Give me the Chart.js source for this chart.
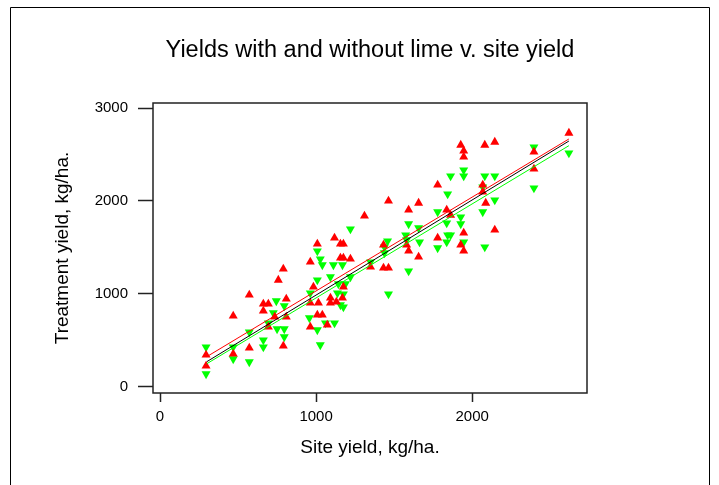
<!DOCTYPE html>
<html>
<head>
<meta charset="utf-8">
<script src="https://cdn.jsdelivr.net/npm/chart.js@4.4.1/dist/chart.umd.min.js"></script>
<style>
  html, body { margin: 0; padding: 0; background: #fff; }
</style>
</head>
<body>
<canvas id="yieldChart" width="719" height="485"></canvas>
<script>
// values, kg/ha
// red (up triangles) - with lime
const limeX = [295, 295, 469, 469, 572, 572, 662, 694, 662, 694, 735, 758, 790, 809, 809, 790, 963, 1156, 1175, 1220,
  983, 963, 1015, 1092, 1092, 1169, 1008, 1040, 963, 1072, 1118, 1156, 1175, 1008, 1175, 1130, 1310, 1464, 1657, 1593,
  1837, 1432, 1580, 1593, 1657, 1779, 1349, 1432, 1464, 1862, 2068, 2087, 1946, 1927, 1946, 2145, 2620, 2396, 2396, 1927,
  1946, 1946, 2081, 2145, 1779, 2068];
const limeY = [344, 226, 763, 355, 990, 419, 892, 892, 817, 645, 753, 1150, 1269, 946, 753, 441, 1344, 1387, 1387, 1376,
  1075, 903, 903, 957, 903, 957, 774, 774, 645, 667, 1602, 1538, 1538, 1538, 1075, 914, 1839, 2000, 1978, 1903,
  1903, 1527, 1527, 1462, 1398, 1602, 1290, 1280, 1280, 1849, 2097, 1978, 1656, 1527, 1462, 1688, 2731, 2527, 2344, 2602,
  2538, 2473, 2602, 2634, 2172, 2172];

// green (down triangles) - without lime
const noLimeX = [295, 295, 469, 469, 572, 572, 662, 662, 726, 694, 745, 750, 796, 796, 796, 1027, 1040, 1111, 1169, 1008,
  1092, 1143, 1188, 1220, 1156, 1175, 1137, 1175, 957, 1060, 1118, 1008, 1027, 1220, 1008, 1779, 1837, 1593, 1657, 1458,
  1438, 1438, 1574, 1580, 1663, 1779, 1837, 1843, 1349, 1593, 1464, 1843, 2068, 2145, 2068, 1927, 1927, 1862, 1946, 2081,
  2620, 2396, 2396, 1946, 1946, 1862, 2081, 2145, 963];
const noLimeY = [430, 140, 430, 301, 591, 269, 505, 430, 796, 688, 925, 624, 871, 624, 538, 1376, 1312, 1312, 1312, 1150,
  1183, 1108, 1108, 1183, 882, 860, 1010, 1000, 742, 688, 688, 613, 452, 1699, 1462, 1882, 1763, 1753, 1710, 1570,
  1505, 1441, 1634, 1581, 1559, 1495, 1559, 1634, 1344, 1247, 1000, 2075, 2150, 2010, 1882, 1828, 1753, 1634, 1559, 1505,
  2516, 2580, 2140, 2333, 2269, 2269, 2269, 2269, 1010];

// fitted lines, end points
const fitX = [300, 2620];
const fitLime = [326, 2667];
const fitAll = [272, 2645];
const fitNoLime = [250, 2595];

const xTicks = [0, 1000, 2000];
const yTicks = [0, 1000, 2000, 3000];

const FONT = "'Liberation Sans', Arial, sans-serif";
Chart.defaults.font.family = FONT;
Chart.defaults.color = '#000';

const toPoints = (xs, ys) => xs.map((x, i) => ({ x: x, y: ys[i] }));

const framePlugin = {
  id: 'frame',
  beforeDraw(chart) {
    const ctx = chart.ctx;
    ctx.save();
    ctx.fillStyle = '#fff';
    ctx.fillRect(0, 0, chart.width, chart.height);
    ctx.strokeStyle = '#000';
    ctx.lineWidth = 1;
    ctx.beginPath();
    ctx.moveTo(10.5, 490);
    ctx.lineTo(10.5, 7.5);
    ctx.lineTo(709.5, 7.5);
    ctx.lineTo(709.5, 490);
    ctx.stroke();
    ctx.restore();
  },
  afterDraw(chart) {
    const a = chart.chartArea;
    const ctx = chart.ctx;
    ctx.save();
    ctx.strokeStyle = '#222';
    ctx.lineWidth = 1.5;
    ctx.strokeRect(a.left, a.top, a.right - a.left, a.bottom - a.top);
    ctx.restore();
  }
};

const ctx = document.getElementById('yieldChart').getContext('2d');
const chart = new Chart(ctx, {
  type: 'scatter',
  data: {
    datasets: [
      {
        label: 'fit with lime', type: 'line', order: 0,
        data: toPoints(fitX, fitLime),
        borderColor: '#ff0000', borderWidth: 1, pointRadius: 0, fill: false
      },
      {
        label: 'fit all', type: 'line', order: 0,
        data: toPoints(fitX, fitAll),
        borderColor: '#000000', borderWidth: 1, pointRadius: 0, fill: false
      },
      {
        label: 'fit without lime', type: 'line', order: 0,
        data: toPoints(fitX, fitNoLime),
        borderColor: '#00ff00', borderWidth: 1, pointRadius: 0, fill: false
      },
      {
        label: 'with lime', order: 1,
        data: toPoints(limeX, limeY),
        pointStyle: 'triangle', pointRadius: 5.2, pointRotation: 0,
        backgroundColor: '#ff0000', borderWidth: 0
      },
      {
        label: 'without lime', order: 2,
        data: toPoints(noLimeX, noLimeY),
        pointStyle: 'triangle', pointRadius: 5.2, pointRotation: 180,
        backgroundColor: '#00ff00', borderWidth: 0
      }
    ]
  },
  options: {
    responsive: false,
    animation: false,
    devicePixelRatio: 1,
    layout: { padding: { left: 21, right: 0, top: 0, bottom: 0 } },
    plugins: {
      legend: { display: false },
      tooltip: { enabled: false },
      title: {
        display: true,
        text: 'Yields with and without lime v. site yield',
        font: { size: 23.5, weight: 'normal' },
        color: '#000',
        padding: { top: 36, bottom: 38.8 }
      }
    },
    scales: {
      x: {
        type: 'linear', min: -45, max: 2736,
        afterBuildTicks: s => { s.ticks = xTicks.map(v => ({ value: v })); },
        afterFit: s => { s.height = 92; },
        grid: { drawOnChartArea: false, drawTicks: true, tickLength: 9, tickColor: '#222', tickWidth: 1.5 },
        border: { display: false },
        ticks: { padding: 6, font: { size: 15 }, color: '#000', maxRotation: 0, callback: v => String(v) },
        title: { display: true, text: 'Site yield, kg/ha.', font: { size: 19 }, color: '#000', padding: { top: 0, bottom: 25.6 } }
      },
      y: {
        type: 'linear', min: -65, max: 3054,
        afterBuildTicks: s => { s.ticks = yTicks.map(v => ({ value: v })); },
        afterFit: s => { s.width = 132; },
        grid: { drawOnChartArea: false, drawTicks: true, tickLength: 15, tickColor: '#222', tickWidth: 1.5 },
        border: { display: false },
        ticks: { padding: 10, font: { size: 15 }, color: '#000', callback: v => String(v) },
        title: { display: true, text: 'Treatment yield, kg/ha.', font: { size: 19 }, color: '#000', padding: { top: 30, bottom: 0 } }
      },
      yRight: {
        type: 'linear', position: 'right', display: true,
        afterFit: s => { s.width = 132; },
        grid: { display: false },
        border: { display: false },
        ticks: { display: false }
      }
    }
  },
  plugins: [framePlugin]
});
</script>
</body>
</html>
